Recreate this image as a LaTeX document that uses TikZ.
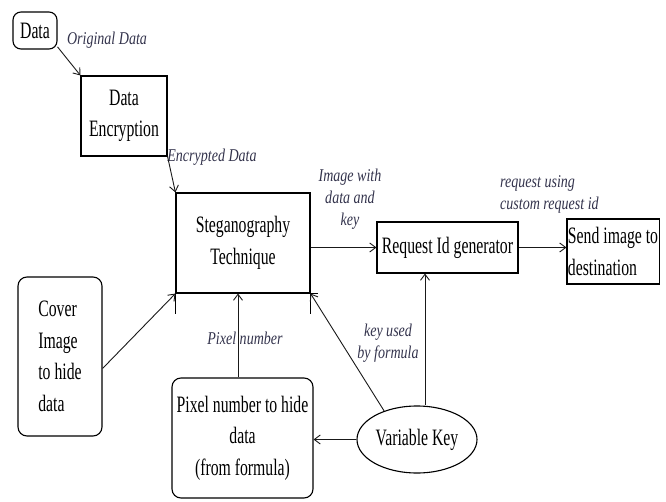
\documentclass[tikz,border=0pt]{standalone}
\usepackage{fontspec}
\setmainfont{Liberation Serif}[FakeStretch=0.67]
\newfontfamily\lblfont{Liberation Serif}[FakeStretch=0.78]
\usetikzlibrary{arrows.meta,shapes.geometric}
\begin{document}
\begin{tikzpicture}[x=1pt,y=-1pt,
  box/.style={draw=black,line width=1.1pt,rectangle,inner sep=1pt,align=center,
    font=\fontsize{23.5pt}{31.5pt}\selectfont,text=black},
  rbox/.style={box,rounded corners=9pt},
  lbl/.style={inner sep=0pt,align=center,text={rgb,1:red,0.2;green,0.2;blue,0.3},
    font=\lblfont\fontsize{18pt}{22pt}\selectfont\itshape},
  arr/.style={draw={rgb,1:red,0.1;green,0.1;blue,0.1},line width=0.9pt,
    -{Straight Barb[length=6pt,width=9pt]}}]
\useasboundingbox (0,0) rectangle (666,502);
% nodes
\node[rbox,rounded corners=8pt,minimum width=44pt,minimum height=37pt] (data) at (35,30.5) {Data};
\node[box,minimum width=86pt,minimum height=80pt] (enc) at (124,116) {Data\\Encryption};
\node[box,minimum width=134pt,minimum height=100pt] (steg) at (243,243) {Steganography\\Technique};
\node[box,minimum width=141pt,minimum height=51pt] (req) at (447.5,247.5) {Request Id generator};
\node[box,align=left,minimum width=88pt,minimum height=65pt] (send) at (613,251.5) {Send image to\\destination};
\node[rbox,align=left,minimum width=84pt,minimum height=159pt] (cover) at (60,356.5) {Cover\\Image\\to hide\\data};
\node[rbox,minimum width=141pt,minimum height=120pt] (pix) at (242.5,438) {Pixel number to hide\\data\\(from formula)};
\node[box,ellipse,inner sep=0pt,minimum width=120pt,minimum height=67pt] (key) at (417,439.5) {Variable Key};
% box edge extensions
\draw[line width=1.1pt] (steg.south west) -- ++(0,20);
\draw[line width=1.1pt] (steg.south east) -- ++(0,20);
\draw[line width=1.1pt] (steg.south east) -- ++(7,0);
% labels
\node[lbl] (lorig) at (107,40) {Original Data};
\node[lbl] (lenc) at (212,157) {Encrypted Data};
\node[lbl] (limg) at (350,199) {Image with\\data and\\key};
\node[lbl,anchor=west,align=left] (lreq) at (500,194) {request using\\custom request id};
\node[lbl] (lpix) at (245,338) {Pixel number};
\node[lbl] (lkey) at (388,343) {key used\\by formula};
% connectors
\draw[arr] (data.-36) -- (enc.north west);
\draw[arr] (enc.south east) -- (steg.north west);
\draw[arr] (steg.east |- req.west) -- (req.west);
\draw[arr] (req.east) -- (req.east -| send.west);
\draw[arr] ([yshift=-12pt]cover.east) -- (steg.south west);
\draw[arr] ([xshift=-4.5pt]pix.north) -- ([xshift=-4.5pt]pix.north |- steg.south);
\draw[arr] (key.west) -- (key.west -| pix.east);
\draw[arr] (key.139) -- (steg.south east);
\draw[arr] ([xshift=8pt]key.north) -- ([xshift=8pt]key.north |- req.south);
\end{tikzpicture}
\end{document}
